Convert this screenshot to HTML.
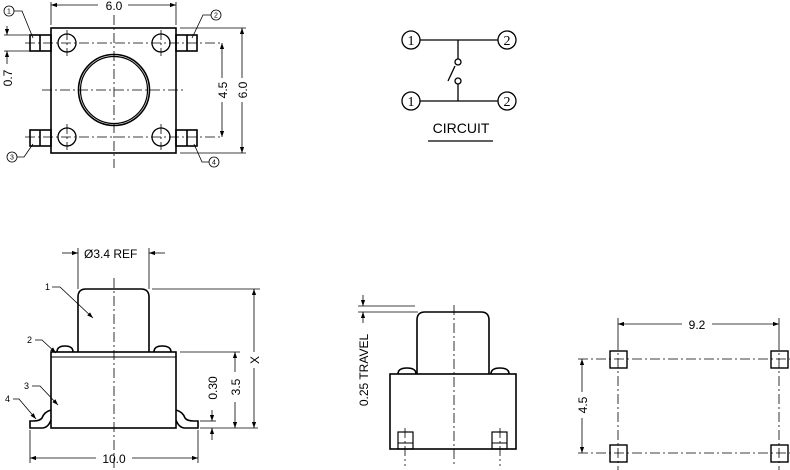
<!DOCTYPE html>
<html><head><style>html,body{margin:0;padding:0;background:#fff}svg{display:block}</style></head><body>
<svg width="790" height="470" viewBox="0 0 790 470" xmlns="http://www.w3.org/2000/svg" font-family="Liberation Sans, sans-serif" fill="none" stroke="#000">
<defs>
<marker id="a" viewBox="0 0 10 10" refX="10" refY="5" markerWidth="8" markerHeight="6" orient="auto-start-reverse" markerUnits="userSpaceOnUse"><path d="M0,1.5 L10,5 L0,8.5z" fill="#000" stroke="none"/></marker>
</defs>
<g stroke-width="0.8">
<!-- TOP VIEW -->
<g stroke-width="1.6">
<rect x="51" y="28" width="125" height="125"/>
<circle cx="114" cy="90" r="35.5"/>
<rect x="30" y="35" width="21" height="16"/><line x1="40" y1="35" x2="40" y2="51"/>
<rect x="30" y="130" width="21" height="16"/><line x1="40" y1="130" x2="40" y2="146"/>
<rect x="176" y="35" width="21" height="16"/><line x1="187" y1="35" x2="187" y2="51"/>
<rect x="176" y="130" width="21" height="16"/><line x1="187" y1="130" x2="187" y2="146"/>
</g>
<circle cx="114" cy="90" r="33.5" stroke-width="1.2"/>
<circle cx="67" cy="43" r="9" stroke-width="1.3"/><circle cx="161" cy="43" r="9" stroke-width="1.3"/>
<circle cx="67" cy="137" r="9" stroke-width="1.3"/><circle cx="161" cy="137" r="9" stroke-width="1.3"/>
<g stroke-dasharray="10 3 2 3">
<line x1="42" y1="90" x2="186" y2="90"/><line x1="114" y1="15" x2="114" y2="168"/>
<line x1="25" y1="43" x2="222" y2="43"/><line x1="25" y1="137" x2="222" y2="137"/>
<line x1="67" y1="30" x2="67" y2="56"/><line x1="161" y1="30" x2="161" y2="56"/>
<line x1="67" y1="124" x2="67" y2="150"/><line x1="161" y1="124" x2="161" y2="150"/>
</g>
<line x1="51" y1="2" x2="51" y2="25"/><line x1="176" y1="2" x2="176" y2="25"/>
<line x1="51" y1="5" x2="98" y2="5" marker-start="url(#a)"/><line x1="128" y1="5" x2="176" y2="5" marker-end="url(#a)"/>
<line x1="4" y1="35" x2="30" y2="35"/><line x1="4" y1="51" x2="30" y2="51"/>
<line x1="7" y1="26" x2="7" y2="35" marker-end="url(#a)"/><line x1="7" y1="64" x2="7" y2="51" marker-end="url(#a)"/>
<line x1="180" y1="28" x2="246" y2="28"/><line x1="180" y1="153" x2="246" y2="153"/>
<line x1="222" y1="43" x2="222" y2="78" marker-start="url(#a)"/><line x1="222" y1="102" x2="222" y2="137" marker-end="url(#a)"/>
<line x1="242" y1="28" x2="242" y2="78" marker-start="url(#a)"/><line x1="242" y1="102" x2="242" y2="153" marker-end="url(#a)"/>
<circle cx="9" cy="11" r="5"/><polyline points="14,11 22,11 33,38"/>
<circle cx="216" cy="15" r="5"/><polyline points="211,15 203,15 192,38"/>
<circle cx="12" cy="157" r="5"/><polyline points="17,157 24,157 33,144"/>
<circle cx="214" cy="162" r="5"/><polyline points="209,162 202,162 194,144"/>
</g>
<g fill="#000" stroke="none" font-size="12">
<text x="114" y="10" text-anchor="middle">6.0</text>
<text transform="translate(12,78) rotate(-90)" text-anchor="middle">0.7</text>
<text transform="translate(227,90) rotate(-90)" text-anchor="middle">4.5</text>
<text transform="translate(247,90) rotate(-90)" text-anchor="middle">6.0</text>
<g font-size="7" text-anchor="middle"><text x="9" y="13.5">1</text><text x="216" y="17.5">2</text><text x="12" y="159.5">3</text><text x="214" y="164.5">4</text></g>
</g>

<!-- CIRCUIT -->
<g stroke-width="1.3">
<circle cx="411" cy="40" r="9"/><circle cx="507" cy="40" r="9"/>
<circle cx="411" cy="101" r="9"/><circle cx="507" cy="101" r="9"/>
<line x1="420" y1="40" x2="498" y2="40"/><line x1="420" y1="101" x2="498" y2="101"/>
<line x1="458" y1="40" x2="458" y2="59"/><circle cx="458" cy="62" r="3"/>
<circle cx="458" cy="81" r="3"/><line x1="458" y1="84" x2="458" y2="101"/>
<line x1="448" y1="81" x2="455" y2="66"/>
<line x1="428" y1="141" x2="493" y2="141"/>
</g>
<g fill="#000" stroke="none" font-family="Liberation Serif, serif" font-size="14" text-anchor="middle">
<text x="411" y="45">1</text><text x="507" y="45">2</text><text x="411" y="106">1</text><text x="507" y="106">2</text>
</g>
<text x="461" y="133" fill="#000" stroke="none" font-size="14" text-anchor="middle">CIRCUIT</text>

<!-- SIDE VIEW -->
<g stroke-width="1.6">
<rect x="51" y="352" width="125" height="76"/>
<line x1="51" y1="357" x2="176" y2="357" stroke-width="1"/>
<path d="M78,352 V297 Q78,289 86,289 H141 Q149,289 149,297 V352"/>
<path d="M57,352 Q57,346 65,346 Q73,346 73,352"/><path d="M154,352 Q154,346 162,346 Q171,346 171,352"/>
<path d="M51,410 Q44,412 42,418 Q40,421 33,421 H30 V428 H42 Q48,428 51,420"/>
<path d="M176,410 Q183,412 185,418 Q187,421 194,421 H198 V428 H185 Q179,428 176,420"/>
</g>
<g stroke-width="0.8">
<line x1="114" y1="278" x2="114" y2="470" stroke-dasharray="10 3 2 3"/>
<line x1="78" y1="248" x2="78" y2="289"/><line x1="149" y1="248" x2="149" y2="289"/>
<line x1="62" y1="253" x2="78" y2="253" marker-end="url(#a)"/><line x1="165" y1="253" x2="149" y2="253" marker-end="url(#a)"/>
<line x1="30" y1="430" x2="30" y2="463"/><line x1="198" y1="430" x2="198" y2="463"/>
<line x1="30" y1="458" x2="96" y2="458" marker-start="url(#a)"/><line x1="132" y1="458" x2="198" y2="458" marker-end="url(#a)"/>
<line x1="200" y1="421" x2="216" y2="421"/><line x1="200" y1="428" x2="258" y2="428"/>
<line x1="212" y1="410" x2="212" y2="421" marker-end="url(#a)"/><line x1="212" y1="440" x2="212" y2="428" marker-end="url(#a)"/>
<line x1="180" y1="352" x2="240" y2="352"/>
<line x1="235" y1="352" x2="235" y2="372" marker-start="url(#a)"/><line x1="235" y1="402" x2="235" y2="428" marker-end="url(#a)"/>
<line x1="152" y1="289" x2="260" y2="289"/>
<line x1="254" y1="289" x2="254" y2="352" marker-start="url(#a)"/><line x1="254" y1="368" x2="254" y2="428" marker-end="url(#a)"/>
<polyline points="52,287 60,287 93,318" marker-end="url(#a)"/>
<polyline points="35,340 42,340 56,353" marker-end="url(#a)"/>
<polyline points="32,386 40,386 58,405" marker-end="url(#a)"/>
<polyline points="13,399 19,399 36,419" marker-end="url(#a)"/>
</g>
<g fill="#000" stroke="none" font-size="12">
<text x="84" y="258">Ø3.4 REF</text>
<text x="114" y="463" text-anchor="middle">10.0</text>
<text transform="translate(217,388) rotate(-90)" text-anchor="middle">0.30</text>
<text transform="translate(240,387) rotate(-90)" text-anchor="middle">3.5</text>
<text transform="translate(259,360) rotate(-90)" text-anchor="middle">X</text>
<g font-size="9"><text x="45" y="290">1</text><text x="27" y="343">2</text><text x="24" y="389">3</text><text x="5" y="402">4</text></g>
</g>

<!-- FRONT VIEW -->
<g stroke-width="1.6">
<rect x="390" y="374" width="126" height="75"/>
<path d="M417,374 V320 Q417,312 425,312 H481 Q489,312 489,320 V374"/>
<path d="M398,374 Q398,368 407,368 Q416,368 416,374"/><path d="M491,374 Q491,368 500,368 Q509,368 509,374"/>
<rect x="398" y="432" width="15" height="17" stroke-width="1.2"/><line x1="398" y1="443" x2="413" y2="443" stroke-width="1"/>
<rect x="492" y="432" width="15" height="17" stroke-width="1.2"/><line x1="492" y1="443" x2="507" y2="443" stroke-width="1"/>
</g>
<g stroke-width="0.8" stroke-dasharray="10 3 2 3">
<line x1="454" y1="305" x2="454" y2="466"/><line x1="405" y1="428" x2="405" y2="466"/><line x1="500" y1="428" x2="500" y2="466"/>
</g>
<g stroke-width="0.8">
<line x1="358" y1="306" x2="415" y2="306"/><line x1="358" y1="312" x2="418" y2="312"/>
<line x1="363" y1="295" x2="363" y2="306" marker-end="url(#a)"/><line x1="363" y1="323" x2="363" y2="312" marker-end="url(#a)"/>
</g>
<text transform="translate(368,370) rotate(-90)" text-anchor="middle" fill="#000" stroke="none" font-size="12">0.25 TRAVEL</text>

<!-- FOOTPRINT -->
<g stroke-width="1.4">
<rect x="610" y="351" width="17" height="17"/><rect x="771" y="351" width="17" height="17"/>
<rect x="610" y="445" width="17" height="17"/><rect x="771" y="445" width="17" height="17"/>
</g>
<g stroke-width="0.8" stroke-dasharray="10 3 2 3">
<line x1="578" y1="359" x2="790" y2="359"/><line x1="578" y1="453" x2="790" y2="453"/>
<line x1="618" y1="340" x2="618" y2="470"/><line x1="779" y1="340" x2="779" y2="470"/>
</g>
<g stroke-width="0.8">
<line x1="618" y1="318" x2="618" y2="340"/><line x1="779" y1="318" x2="779" y2="340"/>
<line x1="618" y1="324" x2="682" y2="324" marker-start="url(#a)"/><line x1="712" y1="324" x2="779" y2="324" marker-end="url(#a)"/>
<line x1="582" y1="359" x2="582" y2="392" marker-start="url(#a)"/><line x1="582" y1="418" x2="582" y2="453" marker-end="url(#a)"/>
</g>
<g fill="#000" stroke="none" font-size="12">
<text x="697" y="329" text-anchor="middle">9.2</text>
<text transform="translate(587,405) rotate(-90)" text-anchor="middle">4.5</text>
</g>
</svg>
</body></html>
